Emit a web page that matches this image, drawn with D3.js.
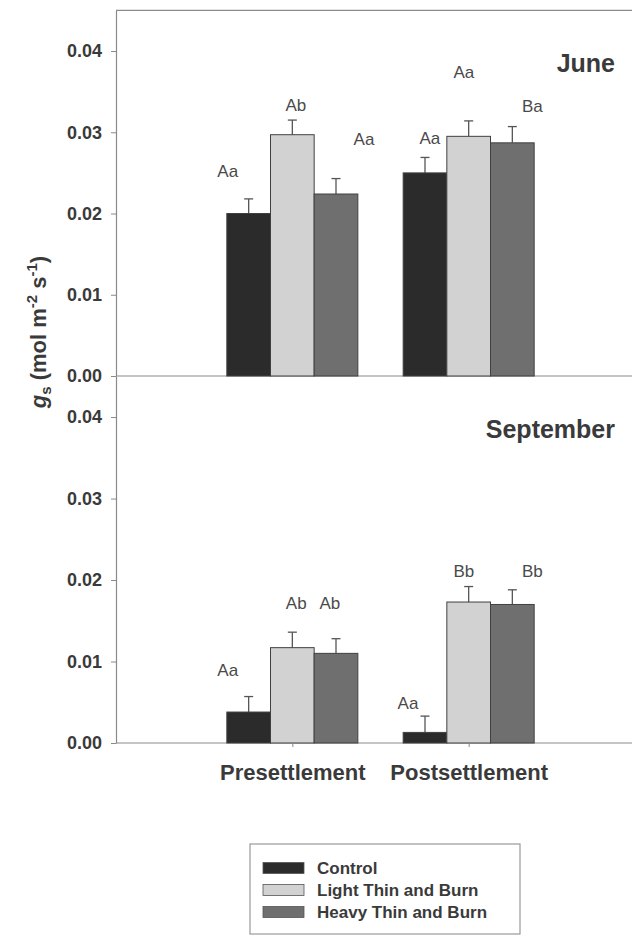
<!DOCTYPE html>
<html>
<head>
<meta charset="utf-8">
<script src="https://cdn.jsdelivr.net/npm/d3@7"></script>
<style>
  html, body { margin: 0; padding: 0; background: #fff; }
  svg { display: block; font-family: "Liberation Sans", Arial, sans-serif; }
</style>
</head>
<body>
<svg id="chart" width="632" height="938"></svg>
<script>
// ---------------- data ----------------
const categories = ["Presettlement", "Postsettlement"];
const series = ["Control", "Light Thin and Burn", "Heavy Thin and Burn"];
const yTicks = [0, 0.01, 0.02, 0.03, 0.04];

// June: mean and SE, one row per category, one column per series
const juneMeans = [[0.0200, 0.0297, 0.0224], [0.0250, 0.0295, 0.0287]];
const juneErr   = [[0.0018, 0.0018, 0.0019], [0.0019, 0.0019, 0.0020]];
const juneLetters = [["Aa", "Ab", "Aa"], ["Aa", "Aa", "Ba"]];
const juneLetterY = [[0.0245, 0.0326, 0.0284], [0.0286, 0.0367, 0.0325]];
const juneLetterDx = [[-0.48, 0.08, 0.64], [0.11, -0.11, 0.46]];

// September
const septMeans = [[0.0038, 0.0117, 0.0110], [0.0013, 0.0173, 0.0170]];
const septErr   = [[0.0019, 0.0019, 0.0018], [0.0020, 0.0019, 0.0018]];
const septLetters = [["Aa", "Ab", "Ab"], ["Aa", "Bb", "Bb"]];
const septLetterY = [[0.0082, 0.0164, 0.0164], [0.0042, 0.0204, 0.0204]];
const septLetterDx = [[-0.48, 0.09, -0.14], [-0.39, -0.11, 0.46]];

const panelTitles = ["June", "September"];

// ---------------- styles ----------------
const colors = ["#2b2b2b", "#d2d2d2", "#6f6f6f"];
const axisColor = "#8a8a8a";
const textColor = "#3a3a3a";

const svg = d3.select("#chart");
svg.append("rect").attr("width", 632).attr("height", 938).attr("fill", "#fff");

const xLeft = 116, xRight = 645;
const x = d3.scalePoint().domain(categories).range([xLeft, xRight]).padding(1);
const xs = d3.scaleBand().domain(series).range([-65.5, 65.5]).padding(0);

const panels = [
  { means: juneMeans, err: juneErr, letters: juneLetters, ly: juneLetterY, ldx: juneLetterDx,
    y: d3.scaleLinear().domain([0, 0.045]).range([376, 10.4]), title: panelTitles[0], titleY: 72 },
  { means: septMeans, err: septErr, letters: septLetters, ly: septLetterY, ldx: septLetterDx,
    y: d3.scaleLinear().domain([0, 0.045]).range([743, 376.3]), title: panelTitles[1], titleY: 438 }
];

panels.forEach((p, pi) => {
  const g = svg.append("g");
  const y = p.y;

  // y axis
  const ax = g.append("g").attr("transform", `translate(${xLeft},0)`)
    .call(d3.axisLeft(y).tickValues(yTicks).tickFormat(d3.format(".2f")).tickSize(5).tickSizeOuter(0).tickPadding(9));
  ax.select(".domain").attr("stroke", axisColor).attr("stroke-width", 1.2);
  ax.selectAll(".tick line").attr("stroke", axisColor).attr("stroke-width", 1);
  ax.selectAll(".tick text").attr("fill", textColor).attr("font-size", 18).attr("font-weight", "bold")
    .attr("font-family", "Liberation Sans, Arial, sans-serif");

  // zero line
  g.append("line").attr("x1", xLeft).attr("x2", xRight).attr("y1", y(0)).attr("y2", y(0))
    .attr("stroke", axisColor).attr("stroke-width", 1.2);
  if (pi === 0) {
    g.append("line").attr("x1", xLeft).attr("x2", xRight).attr("y1", y(0.045)).attr("y2", y(0.045))
      .attr("stroke", axisColor).attr("stroke-width", 1.2);
  }

  // bars
  categories.forEach((c, ci) => {
    series.forEach((s, si) => {
      const cx = x(c) + xs(s);
      const v = p.means[ci][si];
      const e = p.err[ci][si];
      const mid = cx + xs.bandwidth() / 2;
      g.append("line").attr("x1", mid).attr("x2", mid).attr("y1", y(v)).attr("y2", y(v + e))
        .attr("stroke", "#555").attr("stroke-width", 1.3);
      g.append("line").attr("x1", mid - 4.5).attr("x2", mid + 4.5).attr("y1", y(v + e)).attr("y2", y(v + e))
        .attr("stroke", "#555").attr("stroke-width", 1.3);
      g.append("rect").attr("x", cx).attr("y", y(v)).attr("width", xs.bandwidth())
        .attr("height", y(0) - y(v)).attr("fill", colors[si]).attr("stroke", "#404040").attr("stroke-width", 1);
      g.append("text").attr("x", mid + p.ldx[ci][si] * xs.bandwidth()).attr("y", y(p.ly[ci][si]))
        .attr("text-anchor", "middle").attr("font-size", 17).attr("fill", "#4a4a4a")
        .text(p.letters[ci][si]);
    });
  });

  // panel title
  g.append("text").attr("x", 615).attr("y", p.titleY).attr("text-anchor", "end")
    .attr("font-size", 25).attr("font-weight", "bold").attr("fill", textColor).text(p.title);

  // category axis on bottom panel
  if (pi === 1) {
    const bx = g.append("g").attr("transform", `translate(0,${y(0)})`)
      .call(d3.axisBottom(x).tickSize(4).tickSizeOuter(0).tickPadding(17));
    bx.select(".domain").remove();
    bx.selectAll(".tick line").attr("stroke", axisColor);
    bx.selectAll(".tick text").attr("fill", textColor).attr("font-size", 22).attr("font-weight", "bold")
      .attr("font-family", "Liberation Sans, Arial, sans-serif");
  }
});

// y axis title
const yt = svg.append("text").attr("transform", "translate(46,332) rotate(-90)")
  .attr("text-anchor", "middle").attr("font-size", 22).attr("font-weight", "bold").attr("fill", textColor);
yt.append("tspan").attr("font-style", "italic").text("g");
yt.append("tspan").attr("font-size", 15).attr("dy", 5).text("s");
yt.append("tspan").attr("dy", -5).text(" (mol m");
yt.append("tspan").attr("font-size", 15).attr("dy", -9).text("-2");
yt.append("tspan").attr("dy", 9).text(" s");
yt.append("tspan").attr("font-size", 15).attr("dy", -9).text("-1");
yt.append("tspan").attr("dy", 9).text(")");

// legend
const lg = svg.append("g");
lg.append("rect").attr("x", 250).attr("y", 844).attr("width", 270).attr("height", 90)
  .attr("fill", "#fff").attr("stroke", "#999").attr("stroke-width", 1.2);
const legY = d3.scaleBand().domain(series).range([857, 923]);
series.forEach((s, i) => {
  const yy = legY(s) + legY.bandwidth() / 2;
  lg.append("rect").attr("x", 263).attr("y", yy - 5.5).attr("width", 41).attr("height", 11)
    .attr("fill", colors[i]).attr("stroke", "#555").attr("stroke-width", 0.8);
  lg.append("text").attr("x", 317).attr("y", yy + 6).attr("font-size", 17).attr("font-weight", "bold")
    .attr("fill", textColor).text(s);
});
</script>
</body>
</html>
